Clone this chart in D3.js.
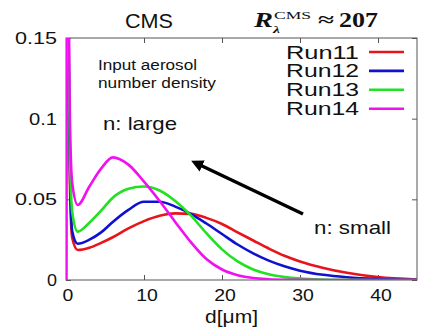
<!DOCTYPE html>
<html><head><meta charset="utf-8">
<script src="https://cdn.jsdelivr.net/npm/d3@7"></script>
<style>body{margin:0;background:#fff}svg{display:block}</style>
</head><body>
<script>
const dValues = [0,0.1,0.3,0.5,0.8,1.5,3,4.5,6,8,10,12,14,16,18,20,22,24,26,28,30,33,36,40,45];
const run11 = [0,0.3,0.15,0.06,0.026,0.0186,0.020,0.023,0.0265,0.032,0.0365,0.0398,0.0413,0.041,0.0385,0.0347,0.0295,0.0245,0.0195,0.015,0.0115,0.0075,0.0045,0.0018,0.0003];
const run12 = [0,0.3,0.16,0.07,0.03,0.0225,0.025,0.0295,0.036,0.0435,0.0485,0.0485,0.0455,0.041,0.035,0.0285,0.022,0.0165,0.012,0.0085,0.0058,0.0032,0.0017,0.0006,0.0001];
const run13 = [0,0.3,0.17,0.08,0.042,0.030,0.0355,0.043,0.051,0.0565,0.058,0.0555,0.049,0.040,0.029,0.019,0.0115,0.0065,0.0035,0.0018,0.0009,0.0003,0.0001,0,0];
const run14 = [0,0.3,0.2,0.1,0.06,0.0465,0.058,0.069,0.076,0.0715,0.061,0.049,0.036,0.0235,0.013,0.0065,0.003,0.0012,0.0005,0.0002,0.0001,0,0,0,0];
const seriesNames = ["Run11","Run12","Run13","Run14"];
const seriesColors = ["#e8141c","#1010d0","#22e022","#f010f0"];
const xTicks = [0,10,20,30,40];
const yTicks = [0,0.05,0.1,0.15];
const yTickLabels = ["0","0.05","0.1","0.15"];

const W=422,H=328;
const L=66,R=417,T=38,B=280;
const svg=d3.select("body").append("svg").attr("width",W).attr("height",H);
const x=d3.scaleLinear().domain([0,45]).range([L,R]);
const y=d3.scaleLinear().domain([0,0.15]).range([B,T]);
const font="Liberation Sans, Arial, sans-serif";
const serif="Liberation Serif, serif";

function txt(px,py,str,size,width,anchor,opts){
  const t=svg.append("text").attr("x",px).attr("y",py).attr("font-family",(opts&&opts.family)||font)
    .attr("font-size",size).attr("fill","#111").attr("text-anchor",anchor||"start").text(str);
  if(width){t.attr("textLength",width).attr("lengthAdjust","spacingAndGlyphs");}
  if(opts&&opts.weight)t.attr("font-weight",opts.weight);
  if(opts&&opts.style)t.attr("font-style",opts.style);
  return t;
}

svg.append("clipPath").attr("id","clip").append("rect").attr("x",L).attr("y",T).attr("width",R-L).attr("height",B-T);

// frame
svg.append("rect").attr("x",L).attr("y",T).attr("width",R-L).attr("height",B-T).attr("fill","none").attr("stroke","#555").attr("stroke-width",1);

// axes with inward ticks (labels drawn separately)
const ax=svg.append("g").attr("transform",`translate(0,${B})`).call(d3.axisBottom(x).tickValues(xTicks).tickSize(-5).tickFormat(""));
const axT=svg.append("g").attr("transform",`translate(0,${T})`).call(d3.axisTop(x).tickValues(xTicks).tickSize(-5).tickFormat(""));
const ay=svg.append("g").attr("transform",`translate(${L},0)`).call(d3.axisLeft(y).tickValues(yTicks).tickSize(-5).tickFormat(""));
const ayR=svg.append("g").attr("transform",`translate(${R},0)`).call(d3.axisRight(y).tickValues(yTicks).tickSize(-5).tickFormat(""));
[ax,axT,ay,ayR].forEach(g=>{g.select(".domain").remove();g.selectAll("line").attr("stroke","#555");});

// tick labels
xTicks.forEach((v,i)=>{
  const s=String(v);
  txt(x(v)+(i===0?2:3),301,s,16,s.length*10.8,"middle");
});
yTicks.forEach((v,i)=>{
  const s=yTickLabels[i];
  const w={"0":10,"0.05":42,"0.1":28,"0.15":42}[s];
  txt(57,y(v)+6,s,16,w,"end");
});

// curves
const allSeries=[run11,run12,run13,run14];
const line=d3.line().x((d,i)=>x(dValues[i])).y(d=>y(d)).curve(d3.curveMonotoneX);
const cg=svg.append("g").attr("clip-path","url(#clip)");
allSeries.forEach((s,k)=>{
  cg.append("path").datum(s).attr("d",line).attr("fill","none").attr("stroke",seriesColors[k]).attr("stroke-width",2.6).attr("stroke-linejoin","round");
});

// legend
seriesNames.forEach((n,k)=>{
  const yy=52+k*18.9;
  txt(359,yy+6.5,n,18,73,"end");
  svg.append("line").attr("x1",369).attr("x2",404).attr("y1",yy).attr("y2",yy).attr("stroke",seriesColors[k]).attr("stroke-width",2.6);
});

// titles
txt(125,28,"CMS",20,48,"start");
txt(254,27,"R",21,19,"start",{family:serif,weight:"bold",style:"italic"});
txt(274,19,"CMS",11,37,"start",{family:serif});
txt(273,33,"λ",11,7,"start",{family:serif,weight:"bold",style:"italic"});
txt(318,26,"≈",19,16,"start",{family:serif,weight:"bold"});
txt(339,27,"207",20,39,"start",{family:serif,weight:"bold"});

// x label
txt(205,323,"d[μm]",19,53,"start");

// annotations
txt(98,70,"Input aerosol",14,99,"start");
txt(98,88,"number density",14,118,"start");
txt(103,130,"n: large",19,74,"start");
txt(314,234,"n: small",19,77,"start");

// arrow
svg.append("defs").append("marker").attr("id","ah").attr("viewBox","0 0 10 10").attr("refX",2).attr("refY",5)
  .attr("markerWidth",3.6).attr("markerHeight",3.6).attr("orient","auto").attr("markerUnits","strokeWidth")
  .append("path").attr("d","M0,0 L10,5 L0,10 z").attr("fill","#000");
svg.append("line").attr("x1",303).attr("y1",214).attr("x2",200).attr("y2",165).attr("stroke","#000").attr("stroke-width",3.4).attr("marker-end","url(#ah)");
</script>
</body></html>
